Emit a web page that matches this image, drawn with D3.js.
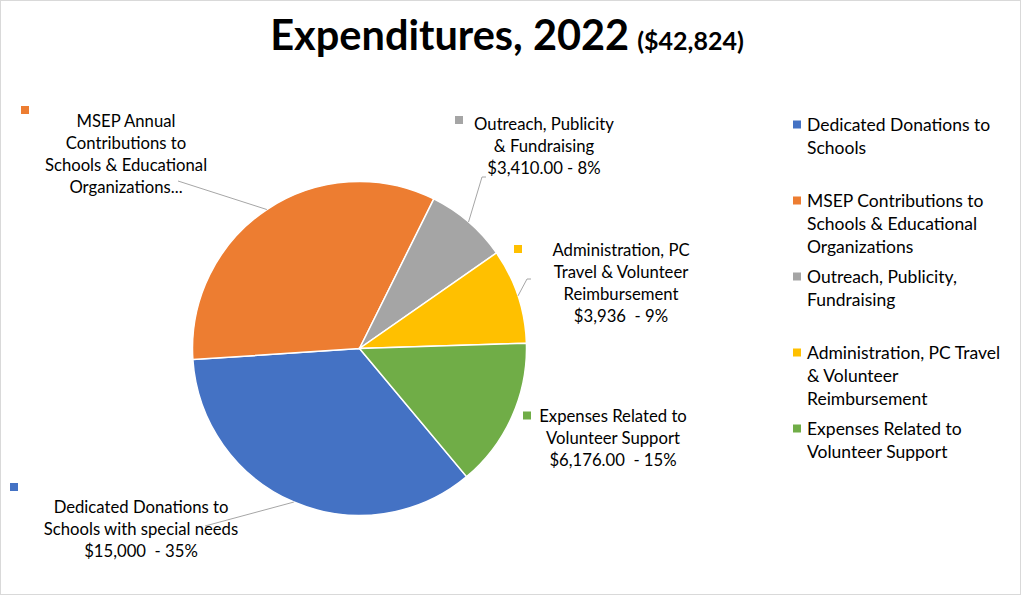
<!DOCTYPE html>
<html><head><meta charset="utf-8">
<script src="https://cdn.jsdelivr.net/npm/d3@7"></script>
<style>
html,body{margin:0;padding:0;background:#fff;}
svg{display:block;font-family:Lato, "Open Sans", sans-serif;}
text{white-space:pre;}
</style></head>
<body>
<svg id="chart" width="1021" height="595"></svg>
<script>
// ---- data ----
const categories = [
  "Dedicated Donations to Schools",
  "MSEP Contributions to Schools & Educational Organizations",
  "Outreach, Publicity, Fundraising",
  "Administration, PC Travel & Volunteer Reimbursement",
  "Expenses Related to Volunteer Support"
];
const values = [15000, 14302, 3410, 3936, 6176];
const colors = ["#4472C4", "#ED7D31", "#A5A5A5", "#FFC000", "#70AD47"];
const legendLines = [
  ["Dedicated Donations to", "Schools"],
  ["MSEP Contributions to", "Schools & Educational", "Organizations"],
  ["Outreach, Publicity,", "Fundraising"],
  ["Administration, PC Travel", "& Volunteer", "Reimbursement"],
  ["Expenses Related to", "Volunteer Support"]
];
const labelLines = [
  ["Dedicated Donations to", "Schools with special needs", "$15,000  - 35%"],
  ["MSEP Annual", "Contributions to", "Schools & Educational", "Organizations..."],
  ["Outreach, Publicity", "& Fundraising", "$3,410.00 - 8%"],
  ["Administration, PC", "Travel & Volunteer", "Reimbursement", "$3,936  - 9%"],
  ["Expenses Related to", "Volunteer Support", "$6,176.00  - 15%"]
];
const titleMain = "Expenditures, 2022";
const titleSub = "($42,824)";

// ---- layout ----
const svg = d3.select("#chart");
const W = 1021, H = 595;
svg.append("rect").attr("x",0.5).attr("y",0.5).attr("width",W-1).attr("height",H-1)
  .attr("fill","#fff").attr("stroke","#d9d9d9");

const title = svg.append("text").attr("x",507).attr("y",50).attr("text-anchor","middle")
  .attr("font-family","Lato, sans-serif").attr("font-weight","bold").attr("fill","#000");
title.append("tspan").attr("font-size",41.5).text(titleMain);
title.append("tspan").attr("font-size",25).attr("dx",8).text(titleSub);

const cx = 359.5, cy = 348.5, R = 167;
const startRot = 140.1 * Math.PI/180;
const pie = d3.pie().sort(null).value(d=>d).startAngle(startRot).endAngle(startRot + 2*Math.PI);
const arcs = pie(values);
const arc = d3.arc().innerRadius(0).outerRadius(R);
const g = svg.append("g").attr("transform",`translate(${cx},${cy})`);
g.selectAll("path").data(arcs).join("path")
  .attr("d",arc).attr("fill",(d,i)=>colors[i]).attr("stroke","#fff").attr("stroke-width",1.5);

// data labels
const labelPos = [
  {x:141, y:513, mx:14, my:487, leader:[[205,526]]},
  {x:126, y:127, mx:25, my:110, leader:[[178,181]]},
  {x:544, y:130, mx:459, my:120, leader:[[486,177],[482,177]]},
  {x:621, y:256, mx:518, my:249, leader:[[531,279],[527,279]]},
  {x:613, y:422, mx:527, my:415.5, leader:null}
];
const lh = 22;
const fsLabel = 16.7;
const fsLegend = 17.5;
const ms = 8;
const labelsG = svg.append("g");
arcs.forEach((a,i)=>{
  const p = labelPos[i];
  if (p.leader) {
    const mid = (a.startAngle + a.endAngle)/2;
    const end = [cx + R*Math.sin(mid), cy - R*Math.cos(mid)];
    labelsG.append("polyline").attr("points", p.leader.concat([end]).map(q=>q.join(",")).join(" "))
      .attr("fill","none").attr("stroke","#a6a6a6").attr("stroke-width",1);
  }
  labelsG.append("rect").attr("x",p.mx-ms/2).attr("y",p.my-ms/2).attr("width",ms).attr("height",ms).attr("fill",colors[i]);
  const t = labelsG.append("text").attr("text-anchor","middle").attr("font-size",fsLabel).attr("fill","#000");
  labelLines[i].forEach((ln,j)=>{
    t.append("tspan").attr("x",p.x).attr("y",p.y + j*lh).text(ln);
  });
});

// legend
const legendY = [124.5, 200.5, 276.5, 352.5, 428.5];
const lg = svg.append("g");
legendLines.forEach((lines,i)=>{
  lg.append("rect").attr("x",793).attr("y",legendY[i]-ms/2).attr("width",ms).attr("height",ms).attr("fill",colors[i]);
  const t = lg.append("text").attr("font-size",fsLegend).attr("fill","#000");
  lines.forEach((ln,j)=>{
    t.append("tspan").attr("x",807).attr("y",legendY[i]+6 + j*23).text(ln);
  });
});
</script>
</body></html>
